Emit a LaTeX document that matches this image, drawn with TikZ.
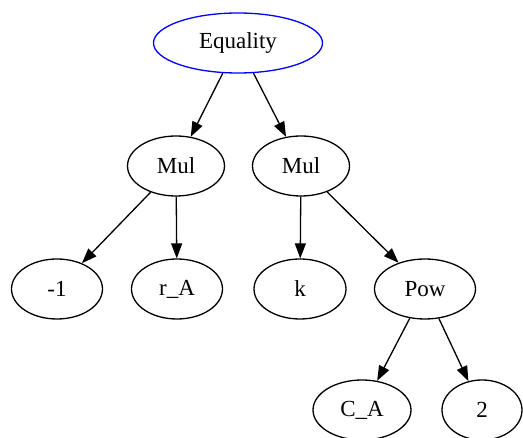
\documentclass[tikz,border=0pt]{standalone}
\usepackage{fontspec}
\setmainfont{Liberation Serif}
\usetikzlibrary{shapes.geometric,arrows.meta}
\begin{document}
\begin{tikzpicture}[x=1pt,y=-1pt,
  treenode/.style={ellipse,draw=black,line width=1.3pt,inner sep=0pt,
    minimum height=60pt,font=\fontsize{23}{25}\selectfont},
  edge/.style={draw=black,line width=1.3pt,
    -{Triangle[length=15pt,width=11pt]}}]
\useasboundingbox (0,0) rectangle (523,438);
\node[treenode,draw=blue,minimum width=169pt] (eq) at (238,43) {Equality};
\node[treenode,minimum width=97pt] (mul1) at (176,166) {Mul};
\node[treenode,minimum width=97pt] (mul2) at (301,166) {Mul};
\node[treenode,minimum width=91pt] (m1) at (57,289) {-1};
\node[treenode,minimum width=91pt] (ra) at (177,289) {r\_A};
\node[treenode,minimum width=92pt] (k) at (300,289) {k};
\node[treenode,minimum width=101pt] (pow) at (425,289) {Pow};
\node[treenode,minimum width=98pt] (ca) at (362,410) {C\_A};
\node[treenode,minimum width=80pt] (two) at (482,410) {2};
\draw[edge] (eq) -- (mul1);
\draw[edge] (eq) -- (mul2);
\draw[edge] (mul1) -- (m1);
\draw[edge] (mul1) -- (ra);
\draw[edge] (mul2) -- (k);
\draw[edge] (mul2) -- (pow);
\draw[edge] (pow) -- (ca);
\draw[edge] (pow) -- (two);
\end{tikzpicture}
\end{document}
